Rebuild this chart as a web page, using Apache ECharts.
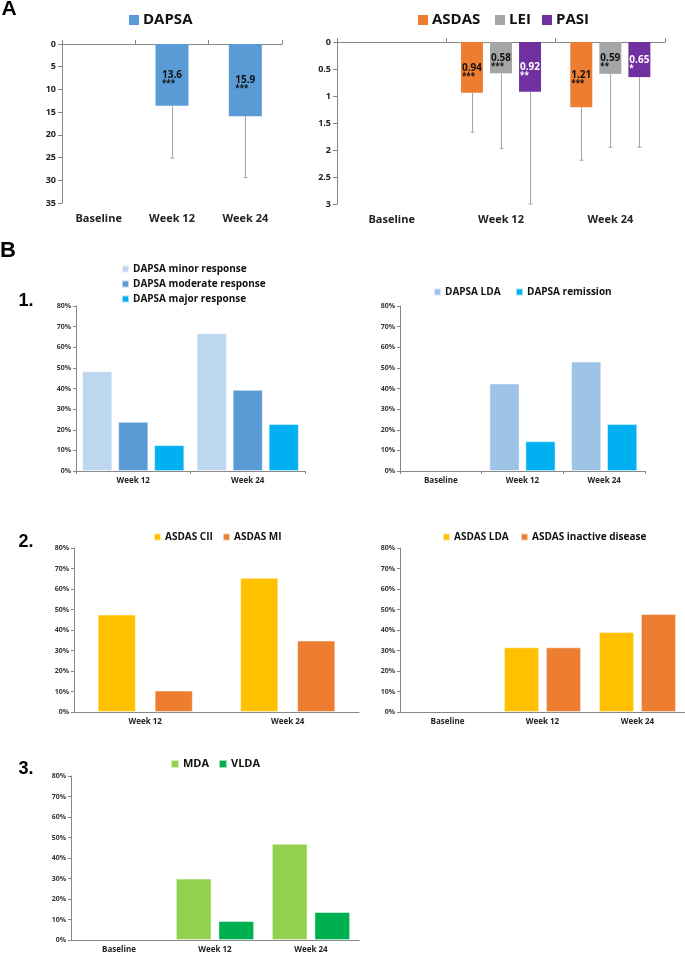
<!DOCTYPE html>
<html>
<head>
<meta charset="utf-8">
<script src="https://cdn.jsdelivr.net/npm/echarts@6/dist/echarts.min.js"></script>
<style>
html,body{margin:0;padding:0;background:#fff;}
#chart{width:685px;height:954px;}
</style>
</head>
<body>
<div id="chart"></div>
<script>
// ---------- Data ----------
const catsA = ['Baseline', 'Week 12', 'Week 24'];
const dapsaMean = [null, 13.6, 15.9];
const dapsaUpper = [null, 25.1, 29.4];
const dapsaSig = ['', '***', '***'];
const asdasMean = [null, 0.94, 1.21];
const asdasUpper = [null, 1.67, 2.19];
const asdasSig = ['', '***', '***'];
const leiMean = [null, 0.58, 0.59];
const leiUpper = [null, 1.97, 1.95];
const leiSig = ['', '***', '**'];
const pasiMean = [null, 0.92, 0.65];
const pasiUpper = [null, 3.0, 1.95];
const pasiSig = ['', '**', '*'];
const dapsaTicks = [0, 35, 5];
const scoreTicks = [0, 3, 0.5];

const catsTwo = ['Week 12', 'Week 24'];
const catsThree = ['Baseline', 'Week 12', 'Week 24'];
const dapsaMinor = [48.3, 66.8];
const dapsaModerate = [23.8, 39.3];
const dapsaMajor = [12.5, 22.8];
const dapsaLDA = [null, 42.4, 53.0];
const dapsaRemission = [null, 14.4, 22.8];
const asdasCII = [47.5, 65.4];
const asdasMI = [10.4, 34.8];
const asdasLDA = [null, 31.5, 39.0];
const asdasInactive = [null, 31.5, 47.8];
const mda = [null, 29.9, 46.9];
const vlda = [null, 9.2, 13.6];
const pctTicks = [0, 80, 10];

// ---------- Styles ----------
const FONT = 'Open Sans';
const AXIS = '#868686';
const C = {
  dapsa: '#5B9BD5', asdas: '#ED7D31', lei: '#A5A5A5', pasi: '#7030A0',
  minor: '#BDD7EE', moderate: '#5B9BD5', major: '#00B0F0',
  lda: '#9DC3E6', rem: '#00B0F0', yellow: '#FFC000', orange: '#ED7D31',
  mda: '#92D050', vlda: '#00B050'
};

const grids = [
  {left: 62, top: 44, width: 220, height: 159},
  {left: 337, top: 42, width: 328, height: 162},
  {left: 76, top: 306, width: 229, height: 165},
  {left: 400, top: 306, width: 245, height: 165},
  {left: 74, top: 548, width: 285, height: 164},
  {left: 400, top: 548, width: 285, height: 164},
  {left: 71, top: 776, width: 288, height: 165}
];

function catAxis(grid, data, opts) {
  return Object.assign({
    type: 'category', gridIndex: grid, data: data, position: 'bottom',
    axisLine: {show: true, lineStyle: {color: AXIS, width: 1}},
    axisTick: {show: false},
    axisLabel: {fontFamily: FONT, fontSize: 8, fontWeight: 'bold', color: '#222', margin: 6},
    splitLine: {show: false}
  }, opts || {});
}
function valAxis(grid, ticks, opts) {
  return Object.assign({
    type: 'value', gridIndex: grid, min: ticks[0], max: ticks[1], interval: ticks[2],
    axisLine: {show: true, lineStyle: {color: AXIS, width: 1}},
    axisTick: {show: true, length: 3, lineStyle: {color: AXIS}},
    axisLabel: {fontFamily: FONT, fontSize: 7, fontWeight: 'bold', color: '#333', margin: 5, formatter: '{value}%'},
    splitLine: {show: false}
  }, opts || {});
}

const xAxes = [
  catAxis(0, catsA, {position: 'top', axisTick: {show: true, length: 4, lineStyle: {color: AXIS}}, axisLabel: {show: false}}),
  catAxis(0, catsA, {axisLine: {show: false}, axisLabel: {fontFamily: FONT, fontSize: 11, fontWeight: 'bold', color: '#222', margin: 10}}),
  catAxis(1, catsA, {position: 'top', axisTick: {show: true, length: 4, lineStyle: {color: AXIS}}, axisLabel: {show: false}}),
  catAxis(1, catsA, {axisLine: {show: false}, axisLabel: {fontFamily: FONT, fontSize: 11, fontWeight: 'bold', color: '#222', margin: 10}}),
  catAxis(2, catsTwo, {axisTick: {show: true, length: 3, lineStyle: {color: AXIS}}}),
  catAxis(3, catsThree, {axisTick: {show: true, length: 3, lineStyle: {color: AXIS}}}),
  catAxis(4, catsTwo),
  catAxis(5, catsThree),
  catAxis(6, catsThree)
];
const yAxes = [
  valAxis(0, dapsaTicks, {inverse: true, axisTick: {show: true, length: 4, lineStyle: {color: AXIS}},
    axisLabel: {fontFamily: FONT, fontSize: 9, fontWeight: 'bold', color: '#222', margin: 6}}),
  valAxis(1, scoreTicks, {inverse: true, axisTick: {show: true, length: 4, lineStyle: {color: AXIS}},
    axisLabel: {fontFamily: FONT, fontSize: 9, fontWeight: 'bold', color: '#222', margin: 6}}),
  valAxis(2, pctTicks), valAxis(3, pctTicks), valAxis(4, pctTicks), valAxis(5, pctTicks), valAxis(6, pctTicks)
];

function scoreLabel(sig, color) {
  return {
    show: true, position: 'inside', offset: [0, 4],
    formatter: function (p) { return '{n|' + p.value + '}\n{s|' + sig[p.dataIndex] + '}'; },
    rich: {
      n: {fontFamily: FONT, fontSize: 10, fontWeight: 'bold', color: color, lineHeight: 10},
      s: {fontFamily: FONT, fontSize: 8, fontWeight: 'bold', color: color, lineHeight: 7, align: 'left'}
    }
  };
}
function scoreBar(name, axis, data, color, sig, labelColor, width, gap) {
  return {
    name: name, type: 'bar', xAxisIndex: axis, yAxisIndex: axis === 0 ? 0 : 1,
    data: data, barWidth: width, barGap: gap,
    itemStyle: {color: color},
    label: scoreLabel(sig, labelColor)
  };
}
function errBar(name, axis, mean, upper, offset) {
  const d = [];
  mean.forEach(function (m, i) { if (m != null) d.push([i, m, upper[i]]); });
  return {
    name: name, type: 'custom', xAxisIndex: axis, yAxisIndex: axis === 0 ? 0 : 1,
    data: d, silent: true, z: 1,
    renderItem: function (params, api) {
      const lo = api.coord([api.value(0), api.value(1)]);
      const hi = api.coord([api.value(0), api.value(2)]);
      const cx = Math.round(lo[0] + offset) + 0.5;
      const st = {stroke: '#A6A6A6', lineWidth: 1};
      return {type: 'group', children: [
        {type: 'line', shape: {x1: cx, y1: lo[1], x2: cx, y2: hi[1]}, style: st},
        {type: 'line', shape: {x1: cx - 2, y1: hi[1], x2: cx + 2, y2: hi[1]}, style: st}
      ]};
    }
  };
}
function pctBar(name, grid, data, color, width, gap) {
  return {
    name: name, type: 'bar', xAxisIndex: grid + 2, yAxisIndex: grid,
    data: data, barWidth: width, barGap: gap,
    itemStyle: {color: color, borderColor: 'rgba(255,255,255,0.6)', borderWidth: 0.8}
  };
}

const series = [
  scoreBar('DAPSA', 0, dapsaMean, C.dapsa, dapsaSig, '#111', 33, '0%'),
  errBar('DAPSA SD', 0, dapsaMean, dapsaUpper, 0),
  scoreBar('ASDAS', 2, asdasMean, C.asdas, asdasSig, '#111', 22, '32%'),
  scoreBar('LEI', 2, leiMean, C.lei, leiSig, '#111', 22, '32%'),
  scoreBar('PASI', 2, pasiMean, C.pasi, pasiSig, '#fff', 22, '32%'),
  errBar('ASDAS SD', 2, asdasMean, asdasUpper, -29),
  errBar('LEI SD', 2, leiMean, leiUpper, 0),
  errBar('PASI SD', 2, pasiMean, pasiUpper, 29),
  pctBar('DAPSA minor response', 2, dapsaMinor, C.minor, 30, '20%'),
  pctBar('DAPSA moderate response', 2, dapsaModerate, C.moderate, 30, '20%'),
  pctBar('DAPSA major response', 2, dapsaMajor, C.major, 30, '20%'),
  pctBar('DAPSA LDA', 3, dapsaLDA, C.lda, 30, '20%'),
  pctBar('DAPSA remission', 3, dapsaRemission, C.rem, 30, '20%'),
  pctBar('ASDAS CII', 4, asdasCII, C.yellow, 38, '50%'),
  pctBar('ASDAS MI', 4, asdasMI, C.orange, 38, '50%'),
  pctBar('ASDAS LDA', 5, asdasLDA, C.yellow, 35, '20%'),
  pctBar('ASDAS inactive disease', 5, asdasInactive, C.orange, 35, '20%'),
  pctBar('MDA', 6, mda, C.mda, 35.5, '20%'),
  pctBar('VLDA', 6, vlda, C.vlda, 35.5, '20%')
];

// legend entries: name, swatch left, center y, font size, icon size
const legendItems = [
  ['DAPSA', 129, 20, 15, 10],
  ['ASDAS', 418, 20, 15, 10],
  ['LEI', 495, 20, 15, 10],
  ['PASI', 542, 20, 15, 10],
  ['DAPSA minor response', 121, 269, 10, 7],
  ['DAPSA moderate response', 121, 284, 10, 7],
  ['DAPSA major response', 121, 299, 10, 7],
  ['DAPSA LDA', 433, 292, 10, 7],
  ['DAPSA remission', 515, 292, 10, 7],
  ['ASDAS CII', 153, 537, 10, 7],
  ['ASDAS MI', 222, 537, 10, 7],
  ['ASDAS LDA', 442, 537, 10, 7],
  ['ASDAS inactive disease', 520, 537, 10, 7],
  ['MDA', 170, 764, 11, 8],
  ['VLDA', 218, 764, 11, 8]
];
const legends = legendItems.map(function (it) {
  const lh = it[3] + 4;
  return {
    data: [it[0]], left: it[1], top: it[2] - lh / 2, padding: 0,
    icon: 'rect', itemWidth: it[4], itemHeight: it[4], itemGap: 0,
    selectedMode: false,
    textStyle: {fontFamily: FONT, fontSize: it[3], fontWeight: 'bold', color: '#111', lineHeight: lh, padding: [0, 0, 0, -1]}
  };
});

function panelText(t, x, y, size) {
  return {type: 'text', style: {text: t, x: x, y: y, font: 'bold ' + size + 'px "Liberation Sans"', fill: '#000', align: 'center', verticalAlign: 'middle'}};
}

const option = {
  animation: false,
  backgroundColor: '#fff',
  grid: grids,
  xAxis: xAxes,
  yAxis: yAxes,
  legend: legends,
  series: series,
  graphic: [
    panelText('A', 9, 9, 21),
    panelText('B', 8, 251, 22),
    panelText('1.', 26, 301, 18),
    panelText('2.', 26, 542, 18),
    panelText('3.', 26, 769, 18)
  ]
};
const chart = echarts.init(document.getElementById('chart'), null, {renderer: 'canvas'});
chart.setOption(option);
</script>
</body>
</html>
